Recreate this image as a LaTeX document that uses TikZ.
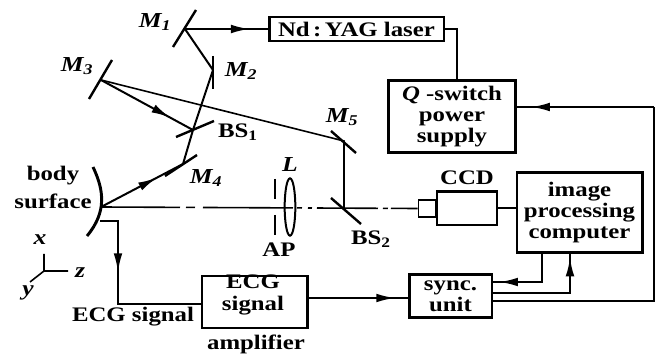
\documentclass[tikz,border=0pt]{standalone}
\usepackage{fontspec}
\setmainfont[FakeStretch=1.2]{Liberation Serif}
\usetikzlibrary{arrows.meta,decorations.markings,calc,shapes.geometric}
\tikzset{
  wire/.style={line width=1.5pt,line join=miter},
  thinwire/.style={line width=1.2pt},
  mirror/.style={line width=1.8pt},
  blockbox/.style={draw,line width=2pt,inner sep=0pt,align=center,font=\fontsize{15.5}{16}\selectfont\bfseries},
  lab/.style={inner sep=0pt,align=center,font=\fontsize{15.5}{16}\selectfont\bfseries},
  mlab/.style={inner sep=0pt,font=\fontsize{16}{16}\selectfont\bfseries\itshape},
  flowmark/.style={postaction={decorate},decoration={markings,mark=at position #1 with {\arrow{Latex[length=14pt,width=6.5pt]}}}}
}
\begin{document}
\begin{tikzpicture}[x=0.75pt,y=-0.75pt]
\useasboundingbox (0,0) rectangle (662,356);
% blocks
\node[blockbox,minimum width=131pt,minimum height=18pt] (laser) at (356.5,29) {Nd\,:\,YAG laser};
\node[blockbox,minimum width=95pt,minimum height=54pt] (qs) at (452,116.5) {\textit{Q} -switch\\power\\supply};
\node[blockbox,minimum width=94pt,minimum height=60pt] (img) at (579.5,212.5) {image\\processing\\computer};
\node[blockbox,minimum width=45pt,minimum height=25pt] (ccd) at (467,208.5) {};
\node[draw,line width=1.1pt,minimum width=13pt,minimum height=12.5pt,inner sep=0pt] (ccdl) at (427,208.5) {};
\node[lab] (ccdt) at (467,178) {CCD};
\node[blockbox,minimum width=62pt,minimum height=32pt] (sync) at (450.5,296) {sync.\\unit};
\node[blockbox,minimum width=79pt,minimum height=39pt] (amp) at (254.5,302) {};
\node[lab] (ampm) at (253,295) {ECG\\signal};
\node[lab] (ampt) at (256,344) {amplifier};
\node[lab] (ecgt) at (133,317) {ECG signal};
\node[lab] (bodyt) at (53,187) {body\\[5pt]surface};
% mirrors
\coordinate (m1) at (185,29); \coordinate (m1a) at (196,10); \coordinate (m1b) at (173,47);
\coordinate (m2) at (213,70); \coordinate (m2a) at (213,56); \coordinate (m2b) at (213,89);
\coordinate (m3) at (101,80); \coordinate (m3a) at (112,60); \coordinate (m3b) at (89,99);
\coordinate (m4) at (183,164); \coordinate (m4a) at (197,155); \coordinate (m4b) at (165,176);
\coordinate (m5) at (344,141); \coordinate (m5a) at (331,131); \coordinate (m5b) at (356,153);
\coordinate (bs1) at (193,130); \coordinate (bs1a) at (214,121); \coordinate (bs1b) at (176,137);
\coordinate (bs2) at (344,208); \coordinate (bs2a) at (331,198); \coordinate (bs2b) at (361,224);
\foreach \p in {m1,m2,m3,m4,m5,bs1,bs2} \draw[mirror] (\p a) -- (\p b);
% beams
\coordinate (surf) at (101,207);
\draw[wire,flowmark=0.78] (m1) -- (laser.west);
\draw[wire] (m1) -- (m2);
\draw[wire] (m2) -- (bs1) -- (m4);
\draw[wire,flowmark=0.75] (m3) -- (bs1);
\draw[thinwire] (m3) -- (m5) -- (bs2);
\draw[wire,flowmark=0.68] (surf) -- (m4);
\draw[line width=1.2pt,dash pattern=on 59.25pt off 4.5pt on 6.75pt off 6pt on 67.5pt off 3pt on 3.75pt off 4.5pt on 3pt off 3.75pt on 45.75pt off 3.75pt on 3.75pt off 2.25pt on 30pt] (surf) -- (ccdl.west);
% body surface
\coordinate (bodya) at (93,167); \coordinate (bodyb) at (87,236);
\draw[line width=2.2pt] (bodya) .. controls (104,190) and (107,212) .. (bodyb);
% aperture and lens
\coordinate (apa) at (275,179); \coordinate (apb) at (275,235);
\draw[line width=1.4pt] (apa) -- (275,199) (275,215) -- (apb);
\node[draw,ellipse,line width=1.5pt,minimum width=8pt,minimum height=43pt,inner sep=0pt] (lens) at (290,207) {};
% electrical connections
\coordinate (q1) at (457,29); \coordinate (q2) at (457,80);
\draw[wire] (laser.east) -- (q1) -- (q2);
\coordinate (qr) at (516,107); \coordinate (qc) at (654,107); \coordinate (sr) at (654,301); \coordinate (s3) at (493,301);
\draw[wire,flowmark=0.89] (qc) -- (qr);
\draw[wire] (qc) -- (sr) -- (s3);
\draw[wire] (ccd.east) -- (img.west |- ccd.east);
\coordinate (i1) at (542,253); \coordinate (i1c) at (542,282); \coordinate (s1) at (493,282);
\draw[wire,flowmark=0.92] (i1) -- (i1c) -- (s1);
\coordinate (s2) at (493,293); \coordinate (i2c) at (570,293); \coordinate (i2) at (570,253);
\draw[wire,flowmark=0.96] (s2) -- (i2c) -- (i2);
\coordinate (a1) at (308,298); \coordinate (s0) at (408,298);
\draw[wire,flowmark=0.87] (a1) -- (s0);
\coordinate (e0) at (100,221); \coordinate (e1) at (118,221); \coordinate (e2) at (118,304); \coordinate (a0) at (201,304);
\draw[wire,flowmark=0.375] (e0) -- (e1) -- (e2) -- (a0);
% axes
\coordinate (o) at (44,271);
\coordinate (ox) at (44,254); \coordinate (oz) at (68,271); \coordinate (oy) at (30,282);
\draw[thinwire] (ox) -- (o) -- (oz) (o) -- (oy);
% labels
\node[mlab] (lx) at (40,240) {x};
\node[mlab] (lz) at (80,273) {z};
\node[mlab] (ly) at (28,293) {y};
\node[mlab] (lm1) at (155,22) {M\textsubscript{1}};
\node[mlab] (lm2) at (241,71) {M\textsubscript{2}};
\node[mlab] (lm3) at (77,66) {M\textsubscript{3}};
\node[mlab] (lm4) at (206,178) {M\textsubscript{4}};
\node[mlab] (lm5) at (342,117) {M\textsubscript{5}};
\node[lab] (lbs1) at (238,132) {BS\textsubscript{1}};
\node[lab] (lbs2) at (371,239) {BS\textsubscript{2}};
\node[mlab] (ll) at (290,165) {L};
\node[lab] (lap) at (279,250) {AP};
\end{tikzpicture}
\end{document}
